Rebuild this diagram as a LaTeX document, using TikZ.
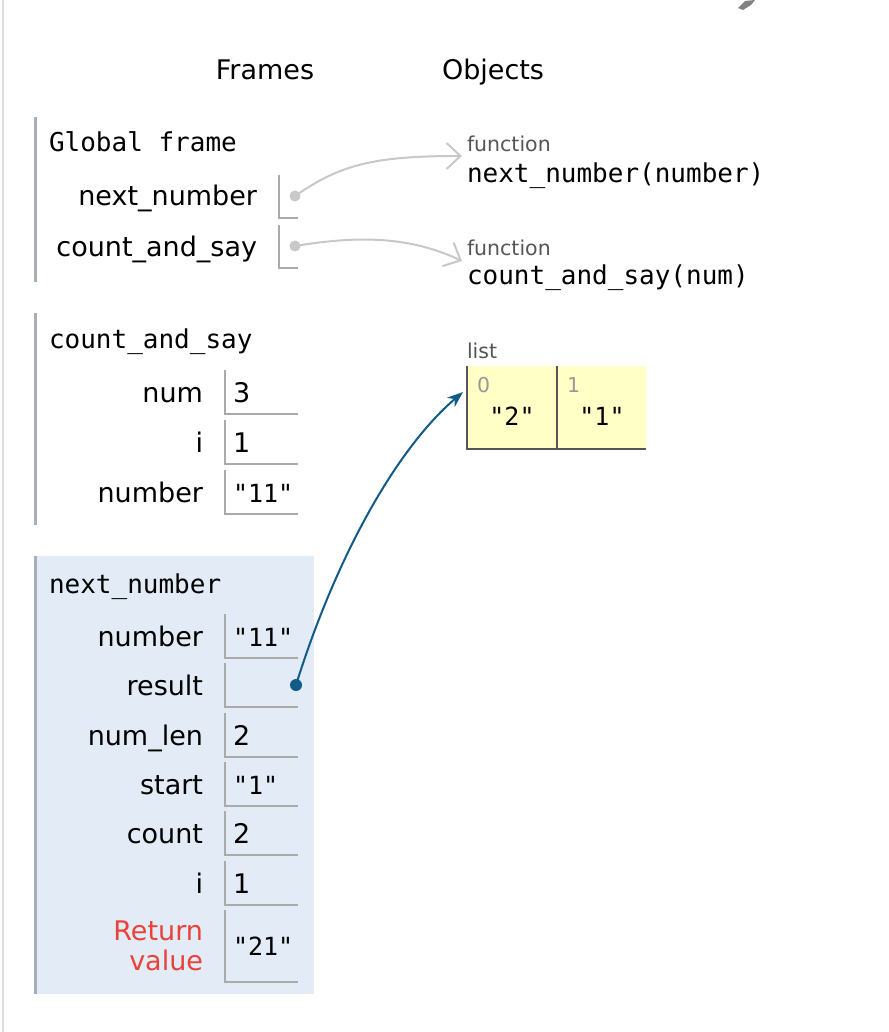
\documentclass[tikz,border=0pt]{standalone}
\usepackage{fontspec}
\setmainfont{DejaVu Sans}
\setmonofont{DejaVu Sans Mono}
\usetikzlibrary{arrows.meta}
\definecolor{pageline}{HTML}{DDDDDD}
\definecolor{framebar}{HTML}{A6AEB6}
\definecolor{boxline}{HTML}{AAAAAA}
\definecolor{heaparrow}{HTML}{C8C8C8}
\definecolor{ptrblue}{HTML}{125A87}
\definecolor{framebg}{HTML}{E2EBF6}
\definecolor{listbg}{HTML}{FFFFC6}
\definecolor{listline}{HTML}{555555}
\definecolor{retred}{HTML}{E8423A}
\definecolor{smallgrey}{HTML}{555555}
\definecolor{idxgrey}{HTML}{999999}
\newcommand\szlbl{\fontsize{27}{31}\selectfont}
\newcommand\szmono{\fontsize{26}{30}\selectfont}
\newcommand\szval{\fontsize{25}{30}\selectfont}
\newcommand\szsmall{\fontsize{20.5}{24}\selectfont}
\begin{document}
\begin{tikzpicture}[x=1pt,y=-1pt,
  every node/.style={inner sep=0pt,outer sep=0pt},
  hdr/.style={font=\szlbl,anchor=base},
  ftitle/.style={font=\ttfamily\szmono,anchor=base west},
  varlbl/.style={font=\szlbl,anchor=base east},
  numval/.style={font=\szlbl,anchor=base west},
  strval/.style={font=\ttfamily\szval,anchor=base west},
  smalllbl/.style={font=\szsmall,text=smallgrey,anchor=base west},
  idxlbl/.style={font=\szsmall,text=idxgrey,anchor=base west},
  funcname/.style={font=\ttfamily\szmono,anchor=base west},
  barline/.style={draw=framebar,line width=3pt},
  valbox/.style={draw=boxline,line width=2pt},
  heapdot/.style={circle,fill=heaparrow,minimum size=11pt},
  bluedot/.style={circle,fill=ptrblue,minimum size=12pt},
  heaparr/.style={draw=heaparrow,line width=2pt,-{Straight Barb[length=14pt,width=26pt]}},
  bluearr/.style={draw=ptrblue,line width=2pt,-{Stealth[length=16pt,width=12pt]}},
]
\useasboundingbox (0,0) rectangle (888,1032);
\fill[white] (0,0) rectangle (888,1032);
% page edge line
\draw[pageline,line width=2pt] (3,0) -- (3,1032);
% artifact top right
\fill[black!50] (738,8) -- (745,1) -- (755,0) -- (751,5) -- (743,10) -- cycle;

% headers
\node[hdr] (frames) at (265,80) {Frames};
\node[hdr] (objects) at (493,80) {Objects};

% ---------- Global frame ----------
\draw[barline] (35,117) -- (35,282);
\node[ftitle] (gtitle) at (49,152) {Global frame};
\node[varlbl] (gl1) at (257,206) {next\_number};
\draw[valbox] (279,175) -- (279,218) -- (298,218);
\node[heapdot] (gd1) at (295,196) {};
\node[varlbl] (gl2) at (257,256) {count\_and\_say};
\draw[valbox] (279,225) -- (279,268) -- (298,268);
\node[heapdot] (gd2) at (295,246) {};

% ---------- function objects ----------
\node[smalllbl] (f1lbl) at (467,152) {function};
\node[funcname] (f1) at (467,183) {next\_number(number)};
\node[smalllbl] (f2lbl) at (467,255) {function};
\node[funcname] (f2) at (467,284) {count\_and\_say(num)};
\coordinate (f1tip) at (462,156);
\coordinate (f2tip) at (462,261);
\draw[heaparr] (gd1.center) .. controls (340,165) and (372,156) .. (f1tip);
\draw[heaparr] (gd2.center) .. controls (350,237) and (405,234) .. (f2tip);

% ---------- count_and_say frame ----------
\draw[barline] (35,313) -- (35,525);
\node[ftitle] (ctitle) at (49,348) {count\_and\_say};
\node[varlbl] (cl1) at (203,402) {num};
\draw[valbox] (225,370) -- (225,414) -- (298,414);
\node[numval] (cv1) at (233,402) {3};
\node[varlbl] (cl2) at (203,452) {i};
\draw[valbox] (225,420) -- (225,464) -- (298,464);
\node[numval] (cv2) at (233,452) {1};
\node[varlbl] (cl3) at (203,502) {number};
\draw[valbox] (225,470) -- (225,514) -- (298,514);
\node[strval] (cv3) at (233,502) {"11"};

% ---------- next_number frame ----------
\fill[framebg] (35,556) rectangle (314,994);
\draw[barline] (35,556) -- (35,994);
\node[ftitle] (ntitle) at (49,593) {next\_number};
\node[varlbl] (nl1) at (203,646) {number};
\draw[valbox] (225,614) -- (225,658) -- (298,658);
\node[strval] (nv1) at (233,646) {"11"};
\node[varlbl] (nl2) at (203,695) {result};
\draw[valbox] (225,663) -- (225,707) -- (298,707);
\node[bluedot] (rdot) at (296,685) {};
\node[varlbl] (nl3) at (203,745) {num\_len};
\draw[valbox] (225,713) -- (225,757) -- (298,757);
\node[numval] (nv3) at (233,745) {2};
\node[varlbl] (nl4) at (203,794) {start};
\draw[valbox] (225,762) -- (225,806) -- (298,806);
\node[strval] (nv4) at (233,794) {"1"};
\node[varlbl] (nl5) at (203,843) {count};
\draw[valbox] (225,811) -- (225,855) -- (298,855);
\node[numval] (nv5) at (233,843) {2};
\node[varlbl] (nl6) at (203,893) {i};
\draw[valbox] (225,861) -- (225,905) -- (298,905);
\node[numval] (nv6) at (233,893) {1};
\node[varlbl,text=retred] (nl7a) at (203,940) {Return};
\node[varlbl,text=retred] (nl7b) at (203,970) {value};
\draw[valbox] (225,910) -- (225,982) -- (298,982);
\node[strval] (nv7) at (233,955) {"21"};

% ---------- list object ----------
\node[smalllbl] (listlbl) at (467,358) {list};
\fill[listbg] (467,366) rectangle (646,449);
\draw[listline,line width=2pt] (467,366) -- (467,449) -- (646,449);
\draw[listline,line width=2pt] (557,366) -- (557,449);
\node[idxlbl] (i0) at (477,392) {0};
\node[idxlbl] (i1) at (567,392) {1};
\node[font=\ttfamily\szval,anchor=base] (e0) at (512,425) {"2"};
\node[font=\ttfamily\szval,anchor=base] (e1) at (602,425) {"1"};
\coordinate (listtip) at (463,392);
\draw[bluearr] (rdot.center) .. controls (335,560) and (395,450) .. (listtip);
\end{tikzpicture}
\end{document}
